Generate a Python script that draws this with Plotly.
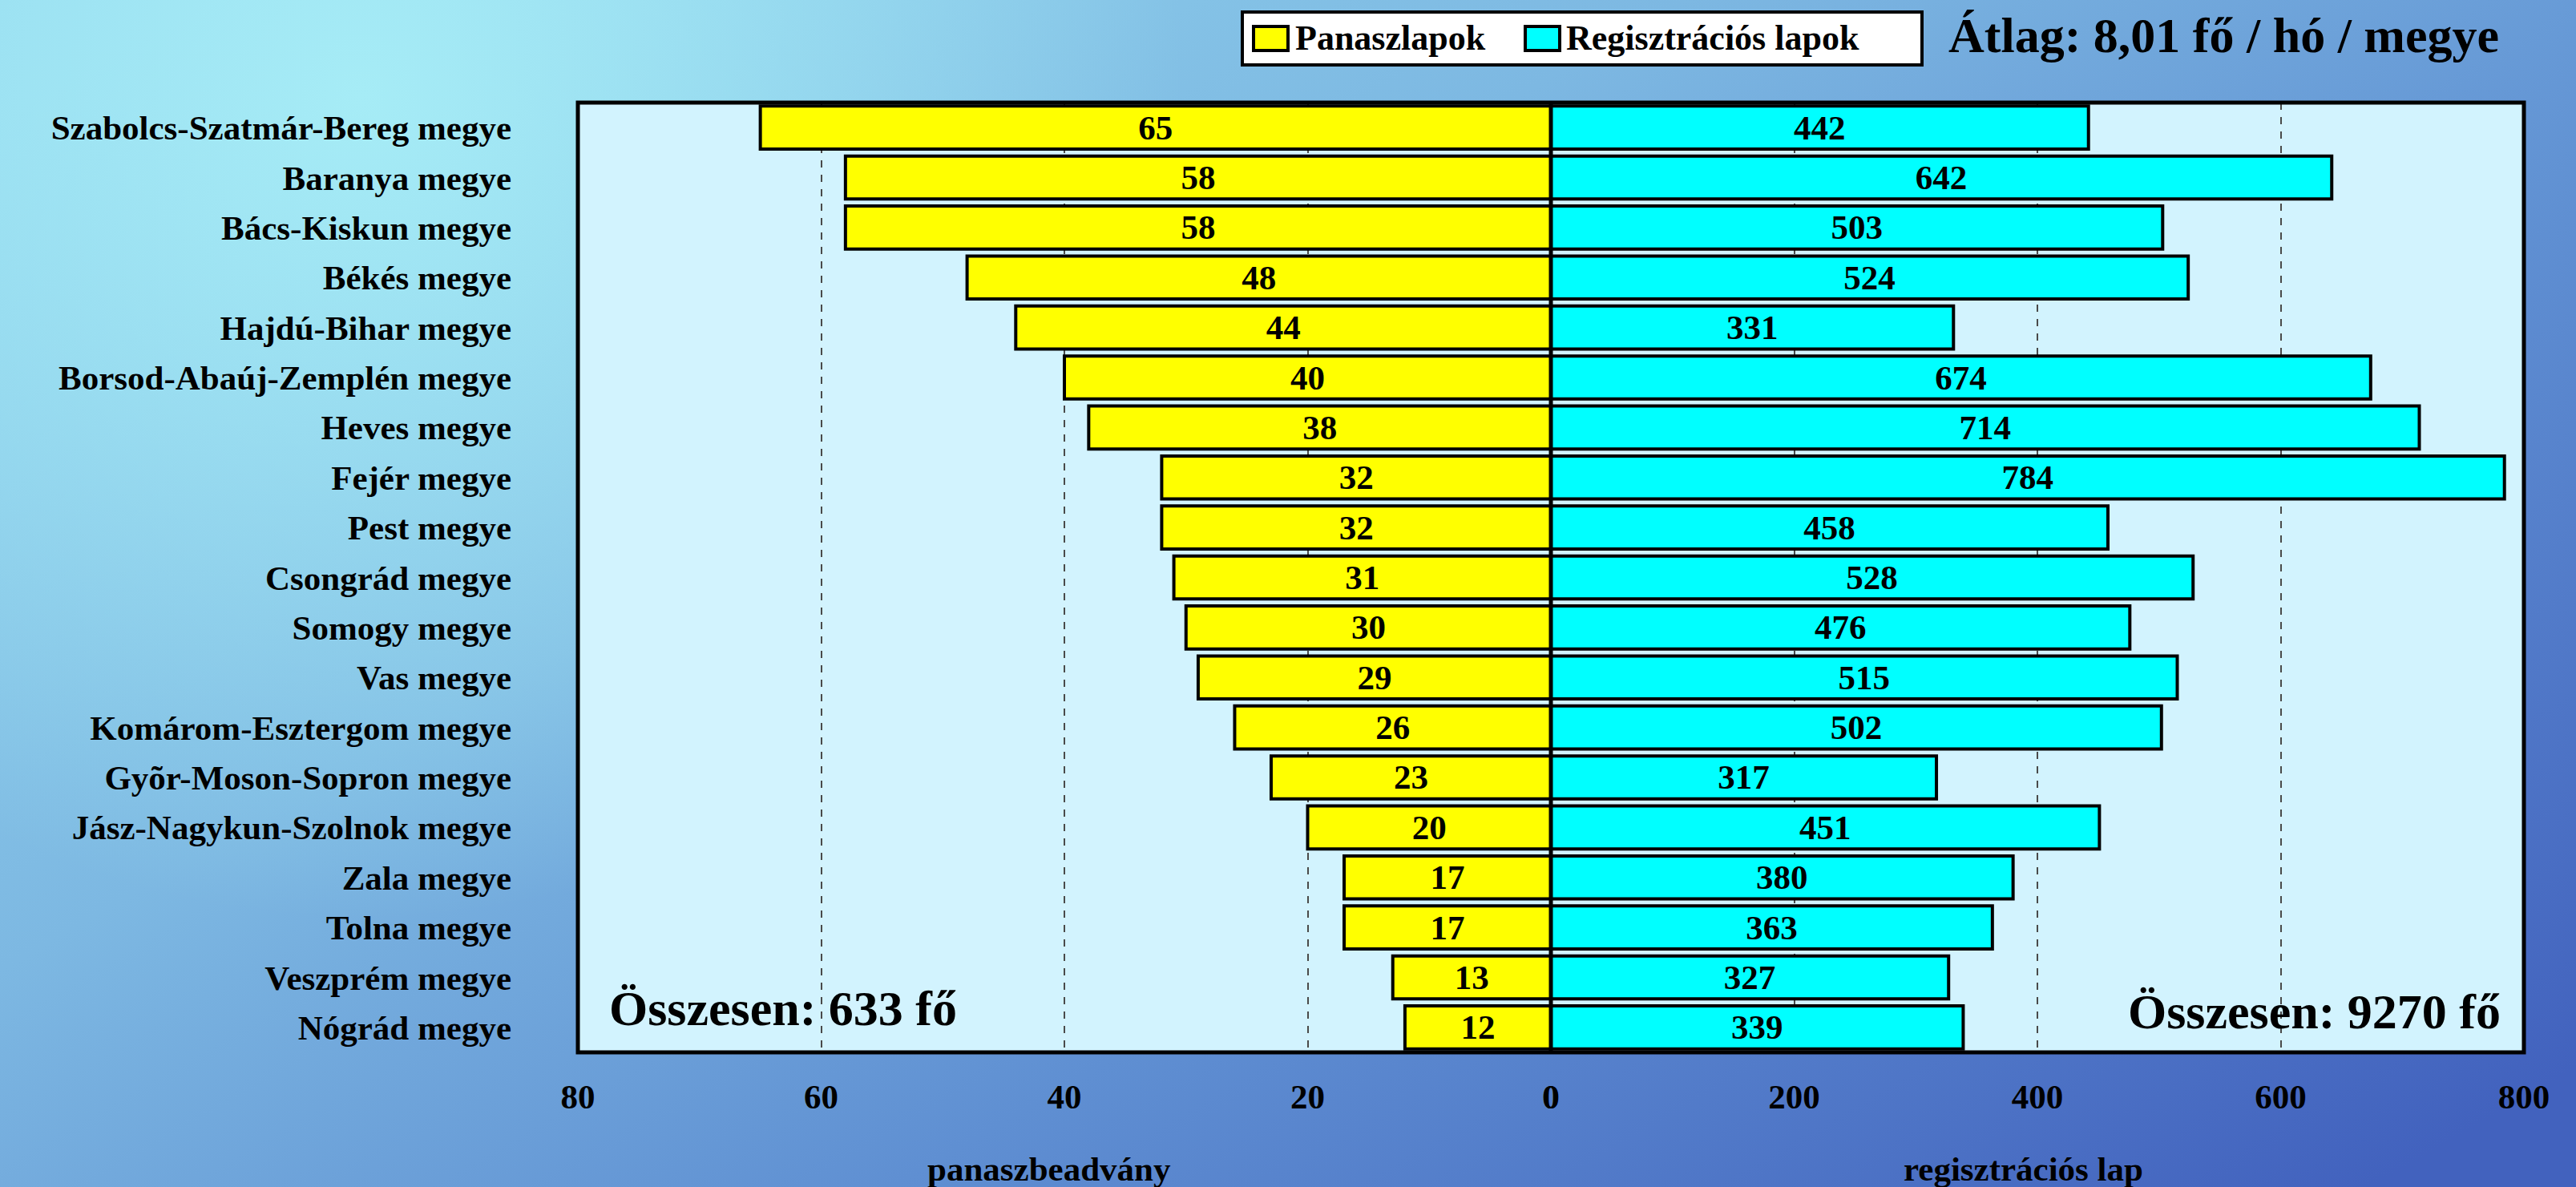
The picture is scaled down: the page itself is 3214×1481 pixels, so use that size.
import base64
import plotly.graph_objects as go

# ---------------- data ----------------
counties = [
    "Szabolcs-Szatmár-Bereg megye", "Baranya megye", "Bács-Kiskun megye",
    "Békés megye", "Hajdú-Bihar megye", "Borsod-Abaúj-Zemplén megye",
    "Heves megye", "Fejér megye", "Pest megye", "Csongrád megye",
    "Somogy megye", "Vas megye", "Komárom-Esztergom megye",
    "Gyõr-Moson-Sopron megye", "Jász-Nagykun-Szolnok megye", "Zala megye",
    "Tolna megye", "Veszprém megye", "Nógrád megye",
]
panaszlapok = [65, 58, 58, 48, 44, 40, 38, 32, 32, 31, 30, 29, 26, 23, 20, 17, 17, 13, 12]
regisztracios = [442, 642, 503, 524, 331, 674, 714, 784, 458, 528, 476, 515, 502, 317, 451, 380, 363, 327, 339]
series_names = ["Panaszlapok", "Regisztrációs lapok"]
series_colors = ["#FFFF00", "#00FFFF"]
left_ticks = [80, 60, 40, 20, 0]
right_ticks = [0, 200, 400, 600, 800]

W, H = 3214, 1481
L, R, T, B = 721, 65, 128, 168
PW, PH = W - L - R, H - T - B

FONT = "Liberation Serif"


def px(xp):
    return (xp - L) / PW


def py(yp):
    return (T + PH - yp) / PH


# ---------------- background gradient (svg) ----------------
svg = f'''<svg xmlns="http://www.w3.org/2000/svg" width="{W}" height="{H}" viewBox="0 0 {W} {H}" preserveAspectRatio="none">
<defs>
<linearGradient id="g" x1="0" y1="0.1" x2="1" y2="0.9">
<stop offset="0" stop-color="#92D6EE"/>
<stop offset="0.35" stop-color="#7DB8E2"/>
<stop offset="0.65" stop-color="#5F8FD2"/>
<stop offset="1" stop-color="#4262BE"/>
</linearGradient>
<radialGradient id="r" cx="{450/W}" cy="{120/H}" r="0.32" gradientTransform="scale(1,{W/H}) translate(0,{-120/H*(1-H/W)})">
<stop offset="0" stop-color="#A6ECF6" stop-opacity="1"/>
<stop offset="1" stop-color="#A6ECF6" stop-opacity="0"/>
</radialGradient>
</defs>
<rect x="0" y="0" width="{W}" height="{H}" fill="url(#g)"/>
<rect x="0" y="0" width="{W}" height="{H}" fill="url(#r)"/>
</svg>'''
bg_uri = "data:image/svg+xml;base64," + base64.b64encode(svg.encode()).decode()

bold = dict(family=FONT, size=43, color="black", weight="bold")
big = dict(family=FONT, size=62, color="black", weight="bold")

fig = go.Figure()
fig.add_trace(go.Bar(
    y=counties, x=panaszlapok, orientation="h", name=series_names[0],
    xaxis="x", yaxis="y", showlegend=False,
    marker=dict(color=series_colors[0], line=dict(color="black", width=4)),
    text=panaszlapok, textposition="inside", insidetextanchor="middle",
    textangle=0, constraintext="none", textfont=bold,
))
fig.add_trace(go.Bar(
    y=counties, x=regisztracios, orientation="h", name=series_names[1],
    xaxis="x2", yaxis="y", showlegend=False,
    marker=dict(color=series_colors[1], line=dict(color="black", width=4)),
    text=regisztracios, textposition="inside", insidetextanchor="middle",
    textangle=0, constraintext="none", textfont=bold,
))

axis_common = dict(
    showgrid=True, gridcolor="#4a4a4a", griddash="dash", gridwidth=1.5,
    zeroline=False, showline=False, ticks="", tickfont=bold,
    ticklabelstandoff=26, fixedrange=True,
)

# manual legend (box, swatches, labels)
legend_shapes = [
    dict(type="rect", xref="paper", yref="paper",
         x0=px(1550), x1=px(2398), y0=py(81), y1=py(15),
         fillcolor="white", line=dict(color="black", width=4), layer="above"),
]
legend_annots = []
for sx, tx, name, col in [(1564, 1614, series_names[0], series_colors[0]),
                          (1903, 1952, series_names[1], series_colors[1])]:
    legend_shapes.append(dict(
        type="rect", xref="paper", yref="paper",
        x0=px(sx), x1=px(sx + 43), y0=py(63), y1=py(33),
        fillcolor=col, line=dict(color="black", width=4), layer="above"))
    legend_annots.append(dict(
        text=name, xref="paper", yref="paper", x=px(tx), y=py(48),
        xanchor="left", yanchor="middle", showarrow=False,
        font=dict(family=FONT, size=44, color="black", weight="bold")))

fig.update_layout(
    width=W, height=H,
    margin=dict(l=L, r=R, t=T, b=B, pad=0),
    paper_bgcolor="#6f9fd8",
    plot_bgcolor="rgba(0,0,0,0)",
    barmode="overlay", bargap=0.14,
    showlegend=False,
    xaxis=dict(domain=[0, 0.5], range=[80, 0], tickvals=left_ticks,
               anchor="y", **axis_common),
    xaxis2=dict(domain=[0.5, 1], range=[0, 800], tickvals=right_ticks,
                anchor="y", **axis_common),
    yaxis=dict(autorange="reversed", showgrid=False, zeroline=False,
               ticks="", tickfont=bold, ticklabelstandoff=82,
               showline=False, fixedrange=True),
    images=[dict(
        source=bg_uri, xref="paper", yref="paper",
        x=-L / PW, y=(PH + T) / PH, sizex=W / PW, sizey=H / PH,
        xanchor="left", yanchor="top", sizing="stretch", layer="below",
    )],
    shapes=[
        dict(type="rect", xref="paper", yref="paper", x0=0, x1=1, y0=0, y1=1,
             fillcolor="#D2F3FE", line=dict(width=0), layer="below"),
        dict(type="rect", xref="paper", yref="paper", x0=0, x1=1, y0=0, y1=1,
             line=dict(color="black", width=5), layer="above"),
        dict(type="line", xref="paper", yref="paper", x0=0.5, x1=0.5, y0=0, y1=1,
             line=dict(color="black", width=5), layer="above"),
    ] + legend_shapes,
    annotations=[
        dict(text="Átlag: 8,01 fő / hó / megye", xref="paper", yref="paper",
             x=px(2429), y=py(44), xanchor="left", yanchor="middle",
             showarrow=False, font=big),
        dict(text="Összesen: 633 fő", xref="paper", yref="paper",
             x=px(758), y=py(1258), xanchor="left", yanchor="middle",
             showarrow=False, font=big),
        dict(text="Összesen: 9270 fő", xref="paper", yref="paper",
             x=px(3122), y=py(1262), xanchor="right", yanchor="middle",
             showarrow=False, font=big),
        dict(text="panaszbeadvány", xref="paper", yref="paper",
             x=px(1309), y=py(1458), xanchor="center", yanchor="middle",
             showarrow=False, font=bold),
        dict(text="regisztrációs lap", xref="paper", yref="paper",
             x=px(2524), y=py(1458), xanchor="center", yanchor="middle",
             showarrow=False, font=bold),
    ] + legend_annots,
)

fig.write_html(
    "out.html",
    config={"displayModeBar": False},
    post_script="document.body.style.margin='0';document.body.style.overflow='hidden';",
)
